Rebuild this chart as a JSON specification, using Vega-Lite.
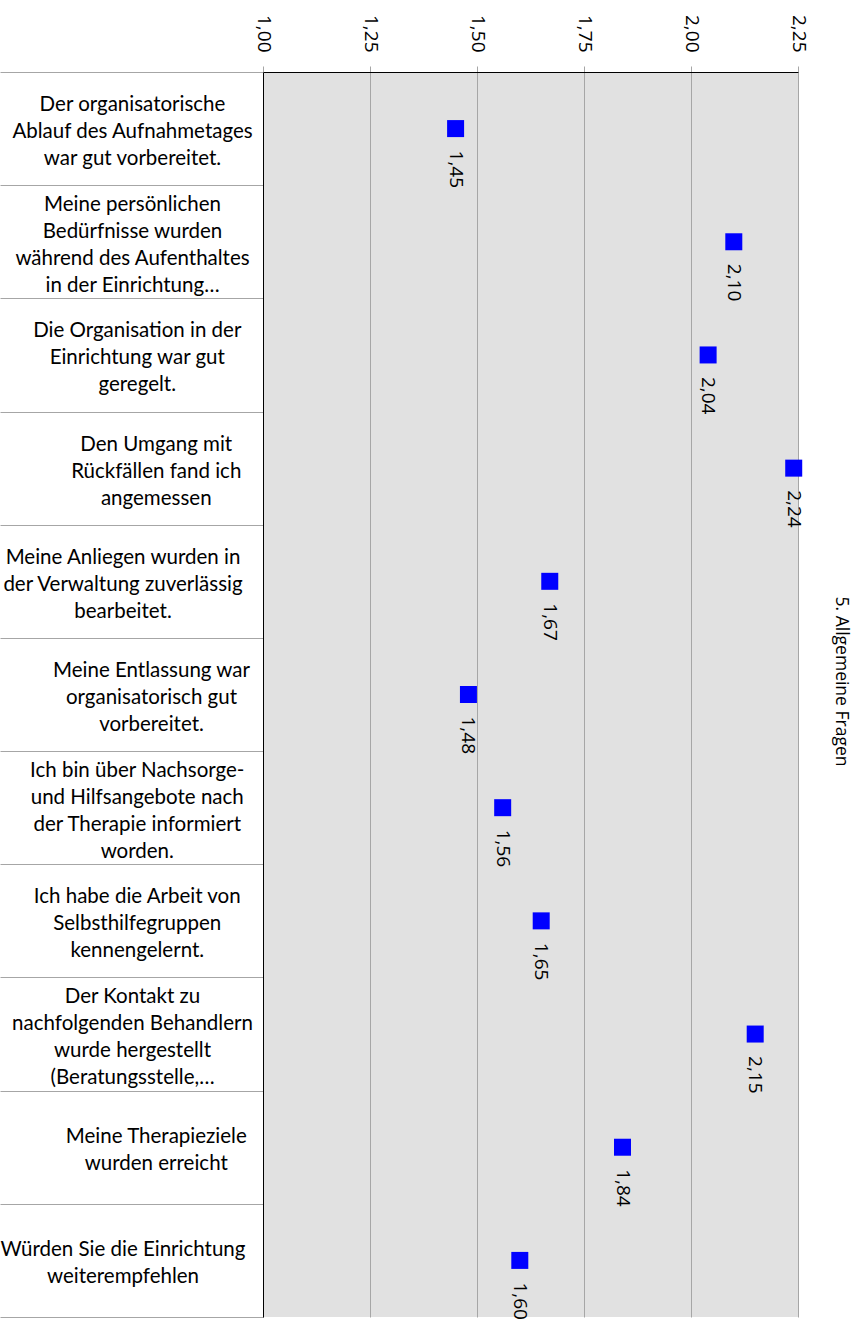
{
  "$schema": "https://vega.github.io/schema/vega-lite/v6.json",
  "autosize": "none",
  "width": 535,
  "height": 1245,
  "padding": {"left": 263, "top": 72, "right": 63, "bottom": 8},
  "background": "white",
  "title": {
    "text": "5. Allgemeine Fragen",
    "orient": "right",
    "angle": 90,
    "baseline": "middle",
    "anchor": "middle",
    "frame": "group",
    "offset": 16,
    "dx": -13,
    "font": "Open Sans",
    "fontSize": 17.5,
    "fontWeight": "normal",
    "color": "#000000"
  },
  "config": {
    "locale": {"number": {"decimal": ",", "thousands": ".", "grouping": [3], "currency": ["", " €"]}},
    "view": {"stroke": null, "fill": "#e1e1e1"}
  },
  "data": {
    "values": [
      {"frage": "Der organisatorische|Ablauf des Aufnahmetages|war gut vorbereitet.", "wert": 1.45},
      {"frage": "Meine persönlichen|Bedürfnisse wurden|während des Aufenthaltes|in der Einrichtung…", "wert": 2.10},
      {"frage": "Die Organisation in der|Einrichtung war gut|geregelt.", "wert": 2.04},
      {"frage": "Den Umgang mit|Rückfällen fand ich|angemessen", "wert": 2.24},
      {"frage": "Meine Anliegen wurden in|der Verwaltung zuverlässig|bearbeitet.", "wert": 1.67},
      {"frage": "Meine Entlassung war|organisatorisch gut|vorbereitet.", "wert": 1.48},
      {"frage": "Ich bin über Nachsorge-|und Hilfsangebote nach|der Therapie informiert|worden.", "wert": 1.56},
      {"frage": "Ich habe die Arbeit von|Selbsthilfegruppen|kennengelernt.", "wert": 1.65},
      {"frage": "Der Kontakt zu|nachfolgenden Behandlern|wurde hergestellt|(Beratungsstelle,…", "wert": 2.15},
      {"frage": "Meine Therapieziele|wurden erreicht", "wert": 1.84},
      {"frage": "Würden Sie die Einrichtung|weiterempfehlen", "wert": 1.60}
    ]
  },
  "encoding": {
    "y": {
      "field": "frage",
      "type": "nominal",
      "sort": null,
      "scale": {"paddingInner": 0, "paddingOuter": 0},
      "axis": {
        "title": null,
        "orient": "left",
        "domain": true,
        "domainColor": "#000000",
        "domainWidth": 1,
        "ticks": true,
        "tickBand": "extent",
        "tickSize": 263,
        "tickColor": "#a6a6a6",
        "tickWidth": 1,
        "labelExpr": "split(datum.label, '|')",
        "labelAlign": "center",
        "labelBaseline": "middle",
        "labelPadding": {"expr": "4.75 * max(length(split(datum.label, '|')[0]), length(split(datum.label, '|')[1] || ''), length(split(datum.label, '|')[2] || ''), length(split(datum.label, '|')[3] || '')) - 246"},
        "labelOffset": {"expr": "-13.5 * (length(split(datum.label, '|')) - 1) + 3"},
        "labelFont": "Lato",
        "labelFontSize": 20.5,
        "labelLineHeight": 27,
        "labelColor": "#000000",
        "labelLimit": 0,
        "grid": false
      }
    },
    "x": {
      "field": "wert",
      "type": "quantitative",
      "scale": {"domain": [1, 2.25], "nice": false, "zero": false},
      "axis": {
        "title": null,
        "orient": "top",
        "values": [1, 1.25, 1.5, 1.75, 2, 2.25],
        "format": ".2f",
        "domain": true,
        "domainColor": "#000000",
        "ticks": true,
        "tickSize": 6,
        "tickColor": "#a6a6a6",
        "grid": true,
        "gridColor": "#a6a6a6",
        "gridWidth": 1,
        "labelAngle": 90,
        "labelAlign": "right",
        "labelBaseline": "middle",
        "labelPadding": 14,
        "labelFont": "Open Sans",
        "labelFontSize": 19,
        "labelColor": "#000000",
        "labelFlush": false,
        "labelOverlap": false
      }
    }
  },
  "layer": [
    {
      "mark": {"type": "square", "size": 289, "color": "#0000ff", "filled": true, "opacity": 1}
    },
    {
      "mark": {"type": "text", "angle": 90, "align": "left", "baseline": "middle", "dx": 22, "font": "Open Sans", "fontSize": 19, "color": "#000000"},
      "encoding": {"text": {"field": "wert", "type": "quantitative", "format": ".2f"}}
    }
  ]
}
